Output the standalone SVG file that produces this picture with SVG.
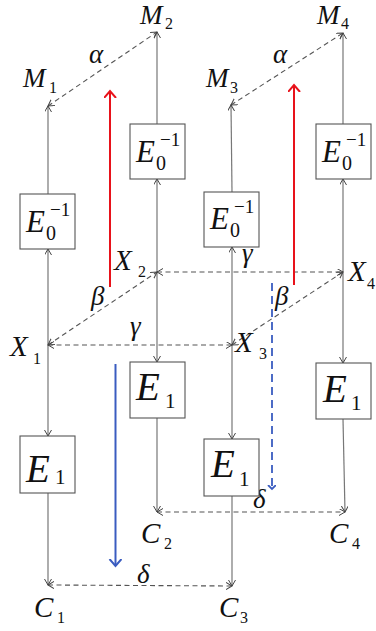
<svg xmlns="http://www.w3.org/2000/svg" width="376" height="631" viewBox="0 0 376 631">
<style>
.bg{fill:#fff}
.box{fill:#fff;stroke:#555;stroke-width:1.1}
.v{stroke:#777;stroke-width:1.2;fill:none}
.d{stroke:#555;stroke-width:1.1;fill:none;stroke-dasharray:5,3.5}
.lab{font-family:"Liberation Serif","Times New Roman",serif;font-style:italic;font-size:29px;fill:#111}
.m{font-size:27px}
.sub{font-family:"Liberation Serif","Times New Roman",serif;font-size:16px;fill:#111}
.gr{font-family:"Liberation Serif","Times New Roman",serif;font-style:italic;font-size:27px;fill:#111}
.e0{font-family:"Liberation Serif","Times New Roman",serif;font-style:italic;font-size:31px;fill:#111}
.e0s{font-family:"Liberation Serif","Times New Roman",serif;font-size:20px;fill:#111}
.e0p{font-family:"Liberation Serif","Times New Roman",serif;font-size:19px;fill:#111}
.e1{font-family:"Liberation Serif","Times New Roman",serif;font-style:italic;font-size:39px;fill:#111}
.e1s{font-family:"Liberation Serif","Times New Roman",serif;font-size:21px;fill:#111}
.red{stroke:#e8121a;stroke-width:2;fill:none}
.blue{stroke:#3a5cc0;stroke-width:2;fill:none}
.blued{stroke:#3a5cc0;stroke-width:1.8;fill:none;stroke-dasharray:8,5}
</style>
<defs>
<marker id="ah" markerUnits="userSpaceOnUse" markerWidth="10" markerHeight="10" refX="6" refY="3.5" orient="auto-start-reverse">
<path d="M0,0 L6,3.5 L0,7" fill="none" stroke="#444" stroke-width="1"/>
</marker>
<marker id="ahr" markerUnits="userSpaceOnUse" markerWidth="12" markerHeight="14" refX="7" refY="6" orient="auto">
<path d="M0,0 L7,6 L0,12" fill="none" stroke="#e8121a" stroke-width="2"/>
</marker>
<marker id="ahb" markerUnits="userSpaceOnUse" markerWidth="12" markerHeight="14" refX="7" refY="6" orient="auto">
<path d="M0,0 L7,6 L0,12" fill="none" stroke="#3a5cc0" stroke-width="2"/>
</marker>
<marker id="ahbs" markerUnits="userSpaceOnUse" markerWidth="10" markerHeight="10" refX="4" refY="4" orient="auto">
<path d="M0,0 L4,4 L0,8" fill="none" stroke="#3a5cc0" stroke-width="1.8"/>
</marker>
</defs>
<rect class="bg" x="0" y="0" width="376" height="631"/>

<g id="connectors">
<line class="v" x1="48" y1="345" x2="48" y2="249" marker-end="url(#ah)"/>
<line class="v" x1="48" y1="194" x2="48" y2="106" marker-end="url(#ah)"/>
<line class="v" x1="48" y1="345" x2="48" y2="436" marker-end="url(#ah)"/>
<line class="v" x1="48" y1="493" x2="48" y2="585" marker-end="url(#ah)"/>
<line class="v" x1="157" y1="272" x2="157" y2="179" marker-end="url(#ah)"/>
<line class="v" x1="157" y1="124" x2="157" y2="32" marker-end="url(#ah)"/>
<line class="v" x1="157" y1="272" x2="157" y2="362" marker-end="url(#ah)"/>
<line class="v" x1="157" y1="418" x2="157" y2="512" marker-end="url(#ah)"/>
<line class="v" x1="232" y1="345" x2="232" y2="247" marker-end="url(#ah)"/>
<line class="v" x1="232" y1="192" x2="231" y2="105" marker-end="url(#ah)"/>
<line class="v" x1="232" y1="345" x2="232" y2="439" marker-end="url(#ah)"/>
<line class="v" x1="232" y1="496" x2="232" y2="586" marker-end="url(#ah)"/>
<line class="v" x1="343" y1="272" x2="343" y2="179" marker-end="url(#ah)"/>
<line class="v" x1="343" y1="124" x2="343" y2="33" marker-end="url(#ah)"/>
<line class="v" x1="343" y1="272" x2="343" y2="363" marker-end="url(#ah)"/>
<line class="v" x1="343" y1="419" x2="345" y2="512" marker-end="url(#ah)"/>
<line class="d" x1="48" y1="106" x2="157" y2="32" marker-start="url(#ah)" marker-end="url(#ah)"/>
<line class="d" x1="231" y1="105" x2="343" y2="33" marker-start="url(#ah)" marker-end="url(#ah)"/>
<line class="d" x1="48" y1="345" x2="157" y2="272" marker-start="url(#ah)" marker-end="url(#ah)"/>
<line class="d" x1="232" y1="345" x2="343" y2="272" marker-start="url(#ah)" marker-end="url(#ah)"/>
<line class="d" x1="48" y1="345" x2="232" y2="345" marker-start="url(#ah)" marker-end="url(#ah)"/>
<line class="d" x1="157" y1="272" x2="343" y2="272" marker-start="url(#ah)" marker-end="url(#ah)"/>
<line class="d" x1="157" y1="512" x2="345" y2="512" marker-start="url(#ah)" marker-end="url(#ah)"/>
<line class="d" x1="48" y1="585" x2="232" y2="586" marker-start="url(#ah)" marker-end="url(#ah)"/>
<text class="gr" x="89" y="63">α</text>
<text class="gr" x="273" y="63">α</text>
<text class="gr" x="91" y="305">β</text>
<text class="gr" x="275" y="305">β</text>
<text class="gr" x="130" y="335">γ</text>
<text class="gr" x="242" y="262">γ</text>
<text class="gr" x="137" y="583">δ</text>
<text class="gr" x="253" y="508">δ</text>
<line class="red" x1="110" y1="287" x2="110" y2="91" marker-end="url(#ahr)"/>
<line class="red" x1="294" y1="285" x2="294" y2="85" marker-end="url(#ahr)"/>
<line class="blue" x1="115.5" y1="364" x2="115.5" y2="566" marker-end="url(#ahb)"/>
<line class="blued" x1="272" y1="283" x2="272" y2="489" marker-end="url(#ahbs)"/>
</g>

<g id="M1"><text class="lab m" x="23" y="87">M</text><text class="sub" x="49" y="93">1</text></g>
<g id="M2"><text class="lab m" x="140" y="24">M</text><text class="sub" x="165" y="29">2</text></g>
<g id="M3"><text class="lab m" x="206" y="87">M</text><text class="sub" x="230" y="93">3</text></g>
<g id="M4"><text class="lab m" x="317" y="24">M</text><text class="sub" x="341" y="29">4</text></g>

<g id="X1"><text class="lab" x="10" y="356">X</text><text class="sub" x="33" y="364">1</text></g>
<g id="X2"><text class="lab" x="114" y="270">X</text><text class="sub" x="138" y="277">2</text></g>
<g id="X3"><text class="lab" x="235" y="352">X</text><text class="sub" x="259" y="359">3</text></g>
<g id="X4"><text class="lab" x="348" y="281">X</text><text class="sub" x="367" y="289">4</text></g>

<g id="C1"><text class="lab" x="34" y="617">C</text><text class="sub" x="57" y="623">1</text></g>
<g id="C2"><text class="lab" x="141" y="543">C</text><text class="sub" x="164" y="549">2</text></g>
<g id="C3"><text class="lab" x="219" y="617">C</text><text class="sub" x="240" y="623">3</text></g>
<g id="C4"><text class="lab" x="329" y="543">C</text><text class="sub" x="352" y="549">4</text></g>

<g id="E0inv_1"><rect class="box" x="20" y="194" width="55" height="55"/><text class="e0" x="26" y="232">E</text><text class="e0s" x="46" y="240">0</text><text class="e0p" x="50" y="216">−1</text></g>
<g id="E0inv_2"><rect class="box" x="130" y="124" width="55" height="55"/><text class="e0" x="136" y="162">E</text><text class="e0s" x="156" y="170">0</text><text class="e0p" x="160" y="146">−1</text></g>
<g id="E0inv_3"><rect class="box" x="204" y="192" width="55" height="55"/><text class="e0" x="210" y="229">E</text><text class="e0s" x="230" y="237">0</text><text class="e0p" x="234" y="213">−1</text></g>
<g id="E0inv_4"><rect class="box" x="316" y="124" width="55" height="55"/><text class="e0" x="322" y="162">E</text><text class="e0s" x="342" y="170">0</text><text class="e0p" x="346" y="146">−1</text></g>

<g id="E1_1"><rect class="box" x="20" y="436" width="55" height="57"/><text class="e1" x="26" y="482">E</text><text class="e1s" x="55" y="484">1</text></g>
<g id="E1_2"><rect class="box" x="130" y="362" width="55" height="56"/><text class="e1" x="136" y="400">E</text><text class="e1s" x="165" y="408">1</text></g>
<g id="E1_3"><rect class="box" x="204" y="439" width="55" height="57"/><text class="e1" x="211" y="477">E</text><text class="e1s" x="239" y="486">1</text></g>
<g id="E1_4"><rect class="box" x="316" y="363" width="55" height="56"/><text class="e1" x="323" y="402">E</text><text class="e1s" x="351" y="410">1</text></g>
</svg>
